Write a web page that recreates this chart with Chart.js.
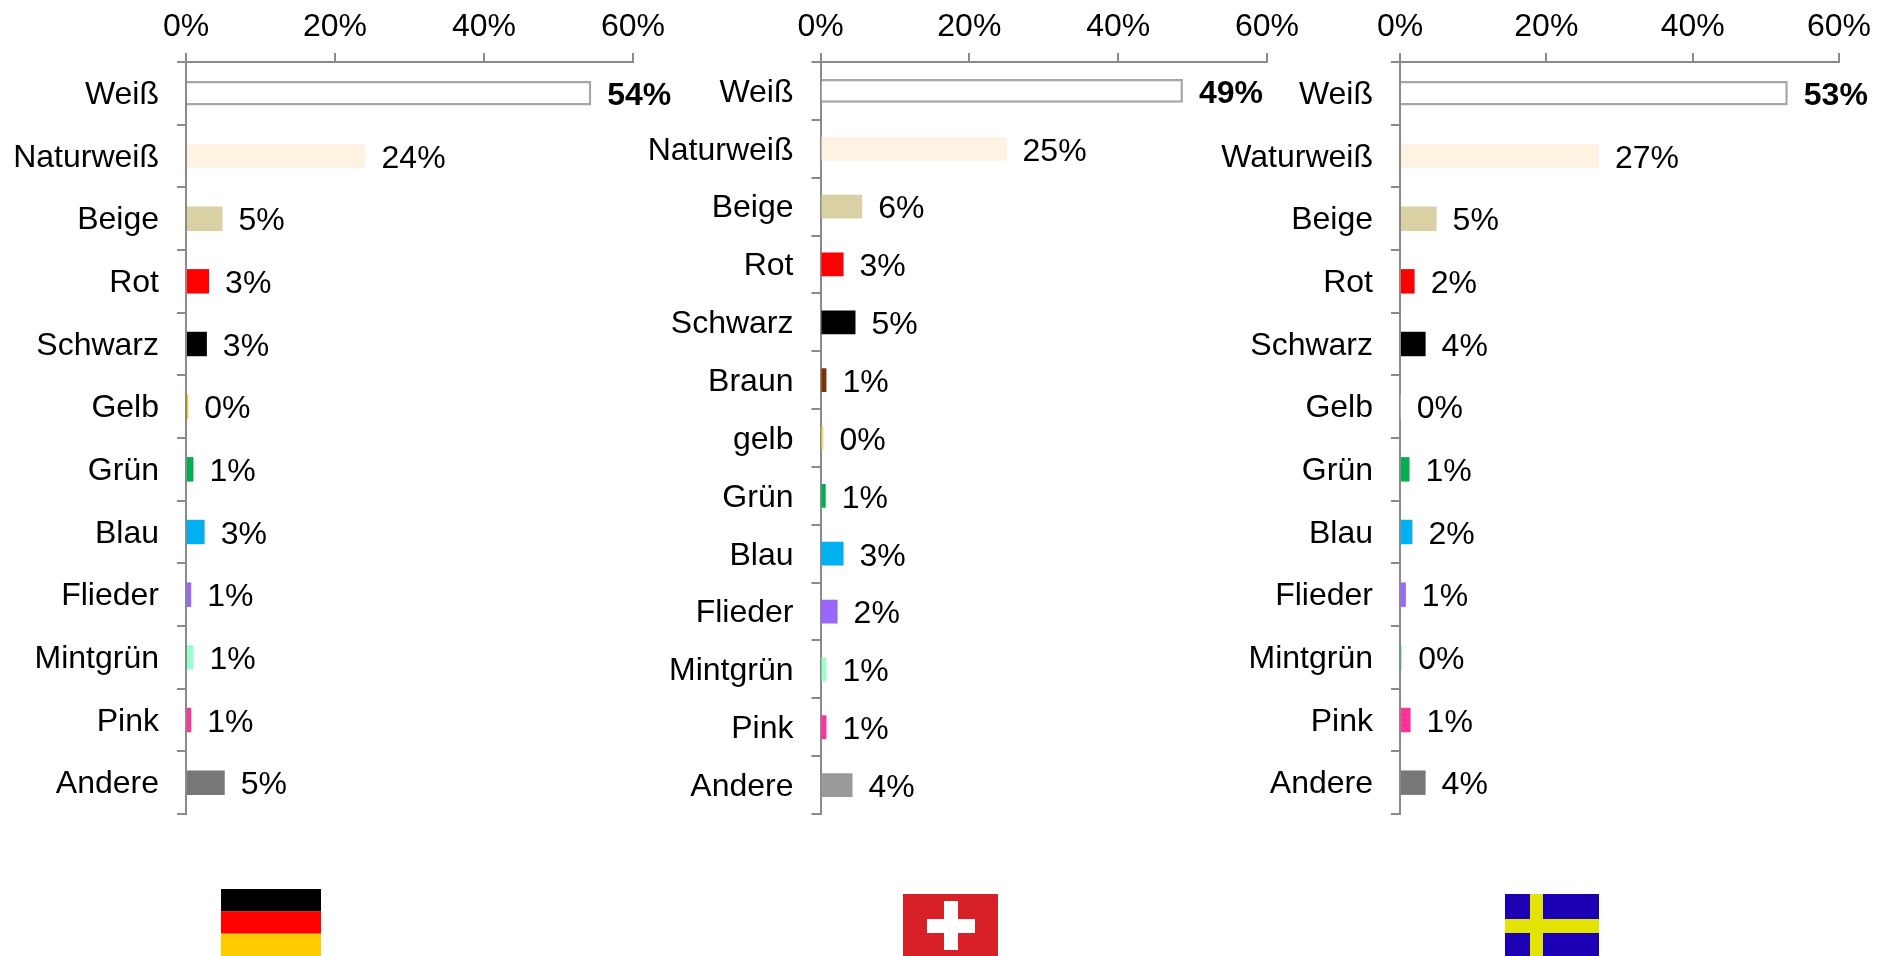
<!DOCTYPE html>
<html>
<head>
<meta charset="utf-8">
<script src="https://cdn.jsdelivr.net/npm/chart.js@4"></script>
<style>
  html, body { margin: 0; padding: 0; background: #fff; overflow: hidden; }
  body { position: relative; width: 1892px; height: 956px; }
  canvas { position: absolute; top: 0; }
  svg { position: absolute; display: block; }
</style>
</head>
<body>
<canvas id="chartDE" style="left:0"></canvas>
<canvas id="chartCH" style="left:640px"></canvas>
<canvas id="chartSE" style="left:1210px"></canvas>

<svg style="left:221px;top:889px" width="100" height="67" viewBox="0 0 100 67">
  <rect width="100" height="22.5" y="0" fill="#000"/>
  <rect width="100" height="22.5" y="22.3" fill="#f00"/>
  <rect width="100" height="22.5" y="44.6" fill="#fc0"/>
</svg>
<svg style="left:903px;top:894px" width="95" height="62" viewBox="0 0 95 62">
  <rect width="95" height="62" fill="#d72027"/>
  <rect x="41" y="7" width="14" height="49" fill="#fff"/>
  <rect x="24" y="25" width="48" height="14" fill="#fff"/>
</svg>
<svg style="left:1505px;top:894px" width="94" height="62" viewBox="0 0 94 62">
  <rect width="94" height="62" fill="#1c00b4"/>
  <rect x="25" width="13" height="62" fill="#e3e304"/>
  <rect y="25" width="94" height="14" fill="#e3e304"/>
</svg>

<script>
const labelsDE = ['Weiß','Naturweiß','Beige','Rot','Schwarz','Gelb','Grün','Blau','Flieder','Mintgrün','Pink','Andere'];
const valuesDE = [54.4,24.1,4.9,3.1,2.8,0.3,1,2.5,0.7,1,0.7,5.2];
const colorsDE = ['#ffffff','#fef3e2','#d9d0a3','#ff0000','#000000','#ffcc00','#00b050','#00b0f0','#9966ff','#99ffcc','#ff3399','#777777'];

const labelsCH = ['Weiß','Naturweiß','Beige','Rot','Schwarz','Braun','gelb','Grün','Blau','Flieder','Mintgrün','Pink','Andere'];
const valuesCH = [48.7,25,5.6,3.1,4.7,0.8,0.4,0.7,3.1,2.3,0.8,0.8,4.3];
const colorsCH = ['#ffffff','#fef3e2','#d9d0a3','#ff0000','#000000','#7f3300','#ffd966','#00b050','#00b0f0','#9966ff','#99ffcc','#ff3399','#999999'];

const labelsSE = ['Weiß','Waturweiß','Beige','Rot','Schwarz','Gelb','Grün','Blau','Flieder','Mintgrün','Pink','Andere'];
const valuesSE = [53,27.2,5,2,3.5,0.1,1.3,1.7,0.8,0.3,1.45,3.5];
const colorsSE = ['#ffffff','#fef3e2','#d9d0a3','#ff0000','#000000','#ffffff','#00b050','#00b0f0','#9966ff','#99ffcc','#ff3399','#777777'];

const axisTicks = [0,20,40,60];
const axisColor = '#8a8a8a';
const fontName = '"Liberation Sans", Arial, sans-serif';
const canvasH = 840;
const plotTop = 62;
const plotBottom = 814;

// draws the "54%" labels next to the bars
const barLabels = {
    id: 'barLabels',
    beforeDraw(chart){
        // category names sit a little lower than the middle of the band
        chart.scales.y.getLabelItems().forEach(item=>{
            item.options.translation[1] += 2;
        });
    },
    afterDatasetsDraw(chart){
        const ctx = chart.ctx;
        const bars = chart.getDatasetMeta(0).data;
        ctx.save();
        ctx.fillStyle = '#000';
        ctx.textBaseline = 'middle';
        ctx.textAlign = 'left';
        bars.forEach((bar,i)=>{
            ctx.font = (i == 0 ? 'bold ' : '') + '32px ' + fontName;
            let v = chart.data.datasets[0].data[i];
            ctx.fillText(Math.round(v) + '%', bar.x + 16, bar.y + 3);
        });
        ctx.restore();
    }
};

function makeChart(id,canvasW,plotLeft,plotRight,labels,values,colors,barPct){
    let canvas = document.getElementById(id);
    canvas.width = canvasW;
    canvas.height = canvasH;

    let config = {
        type: 'bar',
        data: {
            labels: labels,
            datasets: [{
                data: values,
                backgroundColor: colors,
                borderColor: colors.map((c,i)=> i == 0 ? '#a6a6a6' : c),
                borderWidth: colors.map((c,i)=> i == 0 ? 2.5 : 0),
                barPercentage: barPct,
                categoryPercentage: 1
            }]
        },
        options: {
            indexAxis: 'y',
            responsive: false,
            animation: false,
            layout: { padding: { left: 0, top: 0, right: canvasW - plotRight, bottom: canvasH - plotBottom } },
            plugins: { legend: { display: false }, tooltip: { enabled: false } },
            scales: {
                x: {
                    position: 'top',
                    min: 0,
                    max: 60,
                    afterBuildTicks(scale){ scale.ticks = axisTicks.map(v=>({value:v})); },
                    afterFit(scale){
                        scale.height = plotTop;
                        scale.paddingLeft = 0;
                        scale.paddingRight = 0;
                    },
                    border: { color: axisColor, width: 2 },
                    grid: { drawOnChartArea: false, color: axisColor, lineWidth: 2, tickLength: 9 },
                    ticks: {
                        autoSkip: false,
                        maxRotation: 0,
                        padding: 7,
                        color: '#000',
                        font: { family: fontName, size: 32 },
                        callback: v => v + '%'
                    }
                },
                y: {
                    afterFit(scale){
                        scale.width = plotLeft;
                        scale.paddingTop = 0;
                        scale.paddingBottom = 0;
                    },
                    border: { color: axisColor, width: 2 },
                    grid: { drawOnChartArea: false, color: axisColor, lineWidth: 2, tickLength: 9, offset: true },
                    ticks: {
                        autoSkip: false,
                        padding: 18,
                        color: '#000',
                        font: { family: fontName, size: 32 }
                    }
                }
            }
        },
        plugins: [barLabels]
    };

    return new Chart(canvas,config);
}

let chartDE = makeChart('chartDE',700,186,633,labelsDE,valuesDE,colorsDE,0.39);
let chartCH = makeChart('chartCH',660,180.5,627,labelsCH,valuesCH,colorsCH,0.41);
let chartSE = makeChart('chartSE',682,190,629,labelsSE,valuesSE,colorsSE,0.39);
</script>
</body>
</html>
